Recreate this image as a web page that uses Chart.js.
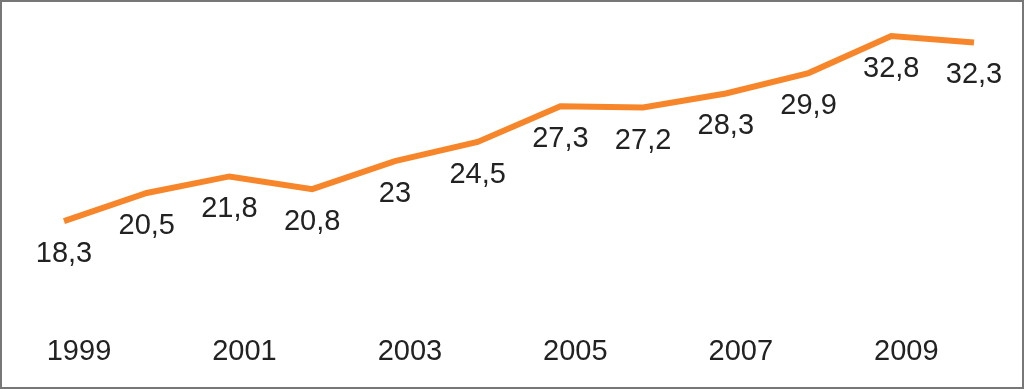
<!DOCTYPE html>
<html>
<head>
    <meta charset="UTF-8">
    <title>Chart</title>
    <script src="https://cdn.jsdelivr.net/npm/chart.js@4.4.1/dist/chart.umd.min.js"></script>
    <style>
        html, body { margin: 0; padding: 0; background: #fff; }
        #box { width: 1024px; height: 389px; box-sizing: border-box; border: 2px solid #777; background: #fff; }
        canvas { display: block; }
    </style>
</head>
<body>
<div id="box">
    <canvas id="lineChart" width="1020" height="385"></canvas>
</div>
<script>
    var years = ["1999", "2000", "2001", "2002", "2003", "2004", "2005", "2006", "2007", "2008", "2009", "2010"];
    var values = [18.3, 20.5, 21.8, 20.8, 23, 24.5, 27.3, 27.2, 28.3, 29.9, 32.8, 32.3];
    var valueLabels = ["18,3", "20,5", "21,8", "20,8", "23", "24,5", "27,3", "27,2", "28,3", "29,9", "32,8", "32,3"];

    // draws the value under every point
    var pointLabels = {
        id: "pointLabels",
        afterDatasetsDraw: function (chart) {
            var ctx = chart.ctx;
            var meta = chart.getDatasetMeta(0);
            ctx.save();
            ctx.font = "29px 'Liberation Sans', Arial, sans-serif";
            ctx.fillStyle = "#222";
            ctx.textAlign = "center";
            ctx.textBaseline = "middle";
            meta.data.forEach(function (pt, i) {
                ctx.fillText(valueLabels[i], pt.x, pt.y + 33);
            });
            ctx.restore();
        }
    };

    new Chart(document.getElementById("lineChart"), {
        type: "line",
        data: {
            labels: years,
            datasets: [{
                data: values,
                borderColor: "#F7862A",
                borderWidth: 6,
                pointRadius: 0,
                tension: 0,
                fill: false
            }]
        },
        options: {
            responsive: false,
            animation: false,
            layout: { padding: { left: 62, right: 48, top: 6, bottom: 17 } },
            plugins: { legend: { display: false }, tooltip: { enabled: false } },
            scales: {
                x: {
                    offset: false,
                    afterFit: function (scale) { scale.height = 43; },
                    grid: { display: false, drawTicks: false },
                    border: { display: false },
                    ticks: {
                        color: "#222",
                        font: { family: "'Liberation Sans', Arial, sans-serif", size: 29 },
                        padding: 8,
                        autoSkip: false,
                        maxRotation: 0,
                        labelOffset: 15,
                        callback: function (val, i) { return i % 2 === 0 ? years[i] : ""; }
                    }
                },
                y: { display: false, min: 10, max: 35 }
            }
        },
        plugins: [pointLabels]
    });
</script>
</body>
</html>
